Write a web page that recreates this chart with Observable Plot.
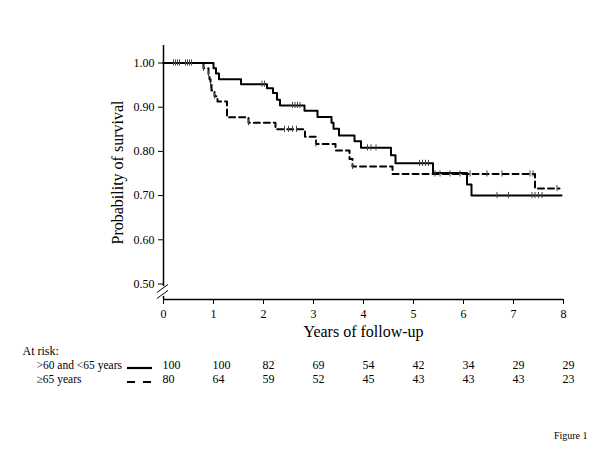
<!DOCTYPE html>
<html>
<head>
<meta charset="utf-8">
<script src="https://cdn.jsdelivr.net/npm/d3@7"></script>
<script src="https://cdn.jsdelivr.net/npm/@observablehq/plot@0.6"></script>
<style>
  html, body { margin: 0; padding: 0; background: #fff; }
</style>
</head>
<body>
<div id="chart"></div>
<script>
// ---- Data ----
// Group 1: >60 and <65 years (solid)
const solidTimes = [1.00, 1.05, 1.11, 1.55, 2.07, 2.19, 2.27, 2.33, 2.82, 3.08, 3.36, 3.40, 3.51, 3.82, 3.95, 4.55, 4.64, 5.39, 6.07, 6.16];
const solidSurv  = [0.988, 0.976, 0.963, 0.952, 0.943, 0.932, 0.917, 0.904, 0.892, 0.878, 0.865, 0.851, 0.836, 0.823, 0.808, 0.791, 0.773, 0.751, 0.725, 0.700];
const solidEnd = 7.96;
const solidCensor = [0.20, 0.24, 0.28, 0.32, 0.44, 0.48, 0.52, 0.56, 1.97, 2.02, 2.58, 2.63, 2.68, 2.73, 4.08, 4.15, 4.25, 5.12, 5.18, 5.24, 5.30, 6.67, 6.90, 7.37, 7.43, 7.50, 7.57];

// Group 2: >=65 years (dashed)
const dashedTimes = [0.80, 0.90, 0.92, 0.94, 0.96, 1.02, 1.08, 1.27, 1.70, 2.24, 2.83, 3.05, 3.44, 3.72, 3.78, 4.58, 7.43];
const dashedSurv  = [0.988, 0.975, 0.963, 0.950, 0.938, 0.925, 0.913, 0.877, 0.865, 0.850, 0.833, 0.817, 0.802, 0.783, 0.766, 0.749, 0.716];
const dashedEnd = 7.92;
const dashedCensor = [0.80, 0.90, 0.94, 1.02, 1.70, 2.42, 2.50, 2.58, 2.66, 3.05, 3.78, 5.43, 5.53, 5.73, 5.93, 6.13, 6.47, 6.77, 7.33, 7.39, 7.87];

// Axis ticks
const xTicks = [0, 1, 2, 3, 4, 5, 6, 7, 8];
const yTicks = [0.50, 0.60, 0.70, 0.80, 0.90, 1.00];
const yDomain = [0.4649, 1.0396];
const yBreak = 0.482;

// At-risk table
const groupLabels = [">60 and <65 years", "\u226565 years"];
const riskYears = [0, 1, 2, 3, 4, 5, 6, 7, 8];
const riskSolid = [100, 100, 82, 69, 54, 42, 34, 29, 29];
const riskDashed = [80, 64, 59, 52, 45, 43, 43, 43, 23];

// ---- Build tables ----
function stepData(times, surv, end) {
  const pts = [{t: 0, s: 1}];
  times.forEach((t, i) => pts.push({t, s: surv[i]}));
  pts.push({t: end, s: surv[surv.length - 1]});
  return pts;
}
function survAt(times, surv, t) {
  let s = 1;
  for (let i = 0; i < times.length; i++) if (times[i] <= t) s = surv[i];
  return s;
}
const solidPts = stepData(solidTimes, solidSurv, solidEnd);
const dashedPts = stepData(dashedTimes, dashedSurv, dashedEnd);
const censors = [
  ...solidCensor.map(t => ({t, s: survAt(solidTimes, solidSurv, t)})),
  ...dashedCensor.map(t => ({t, s: survAt(dashedTimes, dashedSurv, t)}))
];
const risk = [
  ...riskYears.map((y, i) => ({year: y, n: riskSolid[i], row: 0})),
  ...riskYears.map((y, i) => ({year: y, n: riskDashed[i], row: 1}))
];

const FONT = "'Liberation Serif', 'Times New Roman', serif";

// decorations: axis break slashes and legend line samples
function decorations(index, scales, values, dims) {
  const g = d3.create("svg:g").attr("fill", "none").attr("stroke", "#000");
  const x0 = scales.x(0);
  const yb = scales.y(yBreak);
  [-3, 3].forEach(o => {
    g.append("line").attr("x1", x0 - 6).attr("y1", yb + o + 4)
      .attr("x2", x0 + 5).attr("y2", yb + o - 4).attr("stroke-width", 1);
  });
  const baseY = dims.height - dims.marginBottom;
  const lx1 = dims.marginLeft - 36, lx2 = dims.marginLeft - 11;
  g.append("line").attr("x1", lx1).attr("x2", lx2).attr("y1", baseY + 69).attr("y2", baseY + 69).attr("stroke-width", 2.2);
  g.append("line").attr("x1", lx1).attr("x2", lx2).attr("y1", baseY + 83).attr("y2", baseY + 83)
    .attr("stroke-width", 2.2).attr("stroke-dasharray", "8,8");
  return g.node();
}

const chart = Plot.plot({
  width: 600,
  height: 450,
  marginLeft: 163,
  marginRight: 37,
  marginTop: 45,
  marginBottom: 151,
  style: {fontFamily: FONT, background: "#fff", color: "#000"},
  x: {domain: [0, 8]},
  y: {domain: yDomain},
  marks: [
    // axes
    Plot.axisX({ticks: xTicks, tickSize: 5, tickPadding: 5, fontSize: 12, label: null, tickFormat: d3.format("d")}),
    Plot.axisY({ticks: yTicks, tickSize: 5, tickPadding: 4, fontSize: 12, label: null, tickFormat: d3.format(".2f")}),
    Plot.ruleY([yDomain[0]], {x1: 0, x2: 8, stroke: "#000", strokeWidth: 1.5}),
    Plot.ruleX([0], {y1: yBreak + 0.012, y2: yDomain[1], stroke: "#000", strokeWidth: 1.5}),
    Plot.ruleX([0], {y1: yDomain[0], y2: yBreak - 0.01, stroke: "#000", strokeWidth: 1.5}),
    decorations,
    // curves
    Plot.line(dashedPts, {x: "t", y: "s", curve: "step-after", stroke: "#000", strokeWidth: 2, strokeDasharray: "6,4"}),
    Plot.line(solidPts, {x: "t", y: "s", curve: "step-after", stroke: "#000", strokeWidth: 2}),
    // censor ticks
    Plot.ruleX(censors, {x: "t", y1: d => d.s - 0.007, y2: d => d.s + 0.007, stroke: "#444", strokeWidth: 1}),
    // axis titles
    Plot.text(["Years of follow-up"], {frameAnchor: "bottom", dy: 37, fontSize: 16, fill: "#000"}),
    Plot.text(["Probability of survival"], {frameAnchor: "left", dx: -46, rotate: -90, textAnchor: "middle", fontSize: 16, fill: "#000"}),
    // at-risk table
    Plot.text(["At risk:"], {frameAnchor: "bottom-left", dx: -141, dy: 55, textAnchor: "start", fontSize: 12, fill: "#000"}),
    Plot.text(groupLabels, {frameAnchor: "bottom-left", dx: -127, textAnchor: "start", fontSize: 11.5, fill: "#000",
      filter: (d, i) => i === 0, dy: 69}),
    Plot.text(groupLabels, {frameAnchor: "bottom-left", dx: -127, textAnchor: "start", fontSize: 11.5, fill: "#000",
      filter: (d, i) => i === 1, dy: 83}),
    Plot.text(risk.filter(d => d.row === 0), {x: "year", text: "n", frameAnchor: "bottom", dy: 69, dx: -1, textAnchor: "start", fontSize: 12, fill: "#000"}),
    Plot.text(risk.filter(d => d.row === 1), {x: "year", text: "n", frameAnchor: "bottom", dy: 83, dx: -1, textAnchor: "start", fontSize: 12, fill: "#000"}),
    Plot.text(["Figure 1"], {frameAnchor: "bottom-right", dx: 24, dy: 139, textAnchor: "end", fontSize: 10, fill: "#000"})
  ]
});
document.getElementById("chart").appendChild(chart);
</script>
</body>
</html>
